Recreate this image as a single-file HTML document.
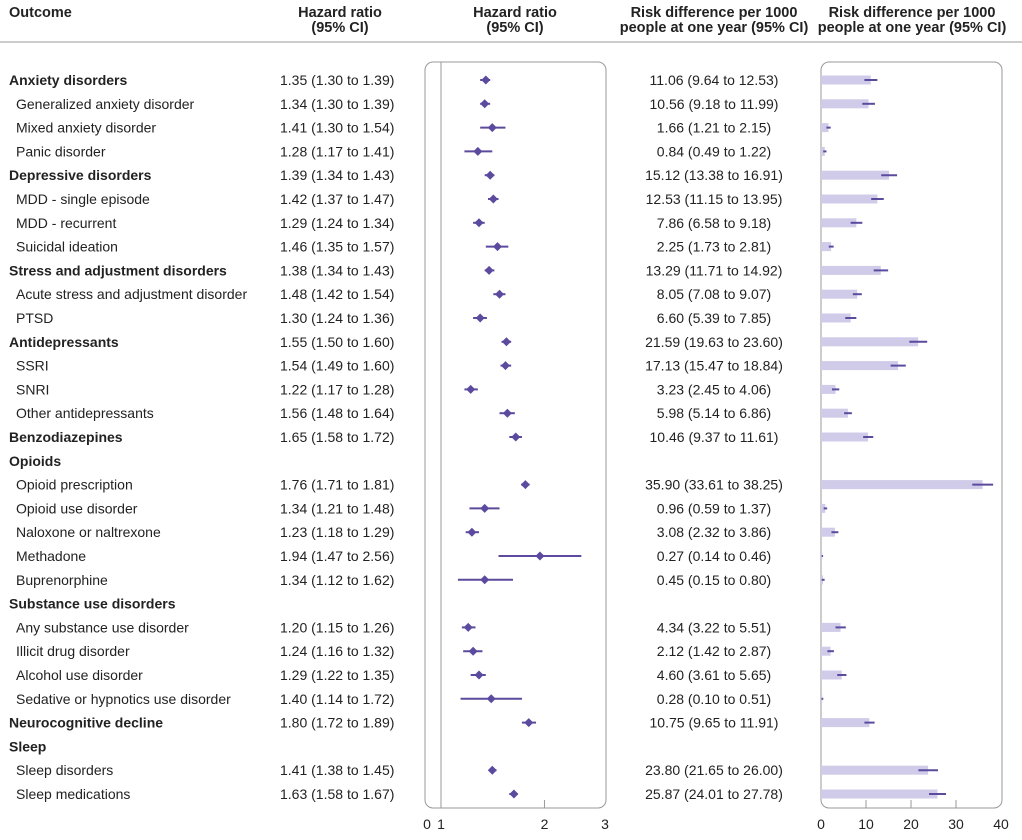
<!DOCTYPE html>
<html><head><meta charset="utf-8"><style>
body{margin:0;background:#fff;}
svg{display:block;font-family:"Liberation Sans",sans-serif;}
</style></head><body>
<svg id="chart" width="1022" height="840" viewBox="0 0 1022 840" xmlns="http://www.w3.org/2000/svg">
<g font-weight="bold" font-size="14.5" fill="#222">
<text x="9" y="17">Outcome</text>
<text x="340" y="17" text-anchor="middle">Hazard ratio</text>
<text x="340" y="32" text-anchor="middle">(95% CI)</text>
<text x="515" y="17" text-anchor="middle">Hazard ratio</text>
<text x="515" y="32" text-anchor="middle">(95% CI)</text>
<text x="714" y="17" text-anchor="middle">Risk difference per 1000</text>
<text x="714" y="32" text-anchor="middle">people at one year (95% CI)</text>
<text x="912" y="17" text-anchor="middle">Risk difference per 1000</text>
<text x="912" y="32" text-anchor="middle">people at one year (95% CI)</text>
</g>
<line x1="0" y1="42" x2="1022" y2="42" stroke="#bbb" stroke-width="1.5"/>
<rect x="425" y="62" width="181" height="746" rx="8" fill="none" stroke="#999"/>
<rect x="821" y="62" width="181" height="746" rx="8" fill="none" stroke="#999"/>
<g id="rows"></g>
<g id="axes"></g>
</svg>
<script>
const labels=["Anxiety disorders","Generalized anxiety disorder","Mixed anxiety disorder","Panic disorder","Depressive disorders","MDD - single episode","MDD - recurrent","Suicidal ideation","Stress and adjustment disorders","Acute stress and adjustment disorder","PTSD","Antidepressants","SSRI","SNRI","Other antidepressants","Benzodiazepines","Opioids","Opioid prescription","Opioid use disorder","Naloxone or naltrexone","Methadone","Buprenorphine","Substance use disorders","Any substance use disorder","Illicit drug disorder","Alcohol use disorder","Sedative or hypnotics use disorder","Neurocognitive decline","Sleep","Sleep disorders","Sleep medications"];
const isHeader=[1,0,0,0,1,0,0,0,1,0,0,1,0,0,0,1,1,0,0,0,0,0,1,0,0,0,0,1,1,0,0];
const hr=[1.35,1.34,1.41,1.28,1.39,1.42,1.29,1.46,1.38,1.48,1.30,1.55,1.54,1.22,1.56,1.65,null,1.76,1.34,1.23,1.94,1.34,null,1.20,1.24,1.29,1.40,1.80,null,1.41,1.63];
const hrLo=[1.30,1.30,1.30,1.17,1.34,1.37,1.24,1.35,1.34,1.42,1.24,1.50,1.49,1.17,1.48,1.58,null,1.71,1.21,1.18,1.47,1.12,null,1.15,1.16,1.22,1.14,1.72,null,1.38,1.58];
const hrHi=[1.39,1.39,1.54,1.41,1.43,1.47,1.34,1.57,1.43,1.54,1.36,1.60,1.60,1.28,1.64,1.72,null,1.81,1.48,1.29,2.56,1.62,null,1.26,1.32,1.35,1.72,1.89,null,1.45,1.67];
const rd=[11.06,10.56,1.66,0.84,15.12,12.53,7.86,2.25,13.29,8.05,6.60,21.59,17.13,3.23,5.98,10.46,null,35.90,0.96,3.08,0.27,0.45,null,4.34,2.12,4.60,0.28,10.75,null,23.80,25.87];
const rdLo=[9.64,9.18,1.21,0.49,13.38,11.15,6.58,1.73,11.71,7.08,5.39,19.63,15.47,2.45,5.14,9.37,null,33.61,0.59,2.32,0.14,0.15,null,3.22,1.42,3.61,0.10,9.65,null,21.65,24.01];
const rdHi=[12.53,11.99,2.15,1.22,16.91,13.95,9.18,2.81,14.92,9.07,7.85,23.60,18.84,4.06,6.86,11.61,null,38.25,1.37,3.86,0.46,0.80,null,5.51,2.87,5.65,0.51,11.91,null,26.00,27.78];
const hrTicks=[1,2,3];
const rdTicks=[0,10,20,30,40];

const NS="http://www.w3.org/2000/svg";
const rowY=i=>80+i*23.8;
const hrX=v=>441+Math.log(v)/Math.log(3)*164;
const rdX=v=>821+v*4.5;
const rows=document.getElementById('rows');
const axes=document.getElementById('axes');
function mk(tag,attrs,parent){const e=document.createElementNS(NS,tag);for(const k in attrs)e.setAttribute(k,attrs[k]);parent.appendChild(e);return e;}
const f=v=>v.toFixed(2);
const ref=mk('line',{x1:hrX(1),x2:hrX(1),y1:62,y2:808,stroke:'#999','stroke-width':1},axes);


labels.forEach((lab,i)=>{
  const y=rowY(i);
  const t=mk('text',{x:isHeader[i]?9:16,y:y+5,'font-size':'14','font-weight':isHeader[i]?'bold':'normal',fill:'#222'},rows);
  t.textContent=lab;
  
  
  if(hr[i]==null)return;
  const ht=mk('text',{x:280,y:y+5,'font-size':'14',fill:'#222'},rows);
  ht.textContent=f(hr[i])+' ('+f(hrLo[i])+' to '+f(hrHi[i])+')';
  
  
  const ci=mk('line',{x1:hrX(hrLo[i]),x2:hrX(hrHi[i]),y1:y,y2:y,stroke:'#5b4a9e','stroke-width':2},rows);
  
  
  const cx=hrX(hr[i]);
  const d=mk('polygon',{points:`${cx-4.5},${y} ${cx},${y-4.5} ${cx+4.5},${y} ${cx},${y+4.5}`,fill:'#5b4a9e'},rows);
  
  
  const rt=mk('text',{x:714,y:y+5,'font-size':'14',fill:'#222','text-anchor':'middle'},rows);
  rt.textContent=f(rd[i])+' ('+f(rdLo[i])+' to '+f(rdHi[i])+')';
  
  
  const b=mk('rect',{x:rdX(0),y:y-4.5,width:rdX(rd[i])-rdX(0),height:9,fill:'#d0cbe8'},rows);
  
  
  const rc=mk('line',{x1:rdX(rdLo[i]),x2:rdX(rdHi[i]),y1:y,y2:y,stroke:'#5b4a9e','stroke-width':2},rows);
  
  
});
const z=mk('text',{x:427,y:829,'font-size':'14',fill:'#222','text-anchor':'middle'},axes);
z.textContent='0';


hrTicks.forEach(v=>{
  const x=hrX(v);
  if(v!==1&&v!==3){const tk=mk('line',{x1:x,x2:x,y1:800,y2:808,stroke:'#999'},axes);
  
  }
  const t=mk('text',{x:x,y:829,'font-size':'14',fill:'#222','text-anchor':'middle'},axes);
  t.textContent=v;
  
  
});
rdTicks.forEach(v=>{
  const x=rdX(v);
  if(v>0&&v<40){const tk=mk('line',{x1:x,x2:x,y1:800,y2:808,stroke:'#999'},axes);
  
  }
  const t=mk('text',{x:x,y:829,'font-size':'14',fill:'#222','text-anchor':'middle'},axes);
  t.textContent=v;
  
  
});
</script>
</body></html>
